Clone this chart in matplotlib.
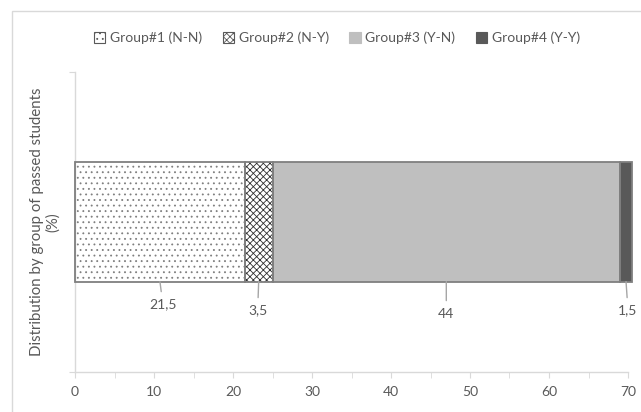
import matplotlib.pyplot as plt
from matplotlib.patches import Patch, Rectangle

groups = ['Group#1 (N-N)', 'Group#2 (N-Y)', 'Group#3 (Y-N)', 'Group#4 (Y-Y)']
shares = [21.5, 3.5, 44, 1.5]
value_labels = ['21,5', '3,5', '44', '1,5']

fills = ['white', 'white', '#bfbfbf', '#595959']
hatches = ['...', 'xxxxx', None, None]
hatch_colors = ['#7f7f7f', '#303030', '#bfbfbf', '#595959']
# label offsets (pixels) from the bottom edge of each segment
label_offsets = [(3, -23), (-1, -29), (0, -32), (2, -29)]

plt.rcParams['font.family'] = ['Lato', 'DejaVu Sans']
plt.rcParams['hatch.linewidth'] = 0.6
text_col = '#595959'
axis_col = '#d9d9d9'
fs = 10

fig = plt.figure(figsize=(6.41, 4.12), dpi=100)
ax = fig.add_axes([75/641, 1 - 372/412, 553/641, 300/412])

# outer chart frame
fig.patches.append(Rectangle((12/641, -0.5), 2, 0.5 + 1 - 11/412, transform=fig.transFigure,
                             fill=False, edgecolor=axis_col, linewidth=1))

bar_h = 0.397
left = 0
for val, fc, h, hc, lab, off in zip(shares, fills, hatches, hatch_colors, value_labels, label_offsets):
    ax.barh(0, val, left=left, height=bar_h, color=fc, edgecolor=hc, hatch=h,
            linewidth=0, clip_on=False, zorder=2)
    ax.barh(0, val, left=left, height=bar_h, fill=False, edgecolor='#7f7f7f',
            linewidth=1.3, clip_on=False, zorder=3)
    ax.annotate(lab, xy=(left + val / 2, -bar_h / 2), xytext=off, textcoords='offset pixels',
                ha='center', va='center', fontsize=fs, color=text_col,
                arrowprops=dict(arrowstyle='-', color='#a6a6a6', lw=1, shrinkA=3, shrinkB=0))
    left += val

ax.set_xlim(0, 70)
ax.set_ylim(-0.5, 0.5)
ax.set_xticks(range(0, 71, 10))
ax.set_xticks(range(5, 70, 10), minor=True)
ax.set_yticks([-0.5, 0.5])
ax.set_yticklabels([])
ax.tick_params(axis='both', which='both', direction='out', length=4, color=axis_col,
               labelcolor=text_col, labelsize=fs)
ax.tick_params(axis='x', pad=6)
for s in ['top', 'right']:
    ax.spines[s].set_visible(False)
for s in ['left', 'bottom']:
    ax.spines[s].set_color(axis_col)
    ax.spines[s].set_linewidth(1)

ax.set_ylabel('Distribution by group of passed students\n(%)', fontsize=10.8,
              color=text_col, labelpad=3, linespacing=1.15)

handles = [Patch(facecolor=fc, edgecolor='#595959' if h else fc, hatch=h, linewidth=0.8)
           for fc, h in zip(fills, hatches)]
fig.legend(handles, groups, loc='center', bbox_to_anchor=(337/641, 1 - 38/412), ncol=4,
           frameon=False, fontsize=fs, labelcolor=text_col, handlelength=0.8,
           handleheight=0.8, handletextpad=0.35, columnspacing=1.5)

fig.savefig('out.png', dpi=100)
